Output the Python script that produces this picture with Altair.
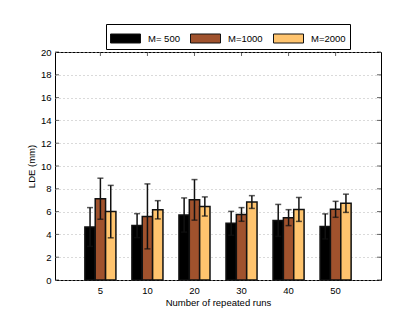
import altair as alt
import pandas as pd

runs = ["5", "10", "20", "30", "40", "50"]
series = ["M= 500", "M=1000", "M=2000"]
colors = ["#000000", "#a0522d", "#ffc46e"]

m500_mean = [4.65, 4.77, 5.70, 4.97, 5.23, 4.70]
m500_err = [1.70, 1.05, 1.50, 1.05, 1.40, 1.10]
m1000_mean = [7.13, 5.58, 7.03, 5.75, 5.47, 6.20]
m1000_err = [1.80, 2.85, 1.78, 0.60, 0.70, 0.70]
m2000_mean = [6.00, 6.16, 6.45, 6.84, 6.19, 6.73]
m2000_err = [2.30, 0.80, 0.84, 0.56, 1.05, 0.80]

y_ticks = [0, 2, 4, 6, 8, 10, 12, 14, 16, 18, 20]

rows = []
for name, means, errs in [
    (series[0], m500_mean, m500_err),
    (series[1], m1000_mean, m1000_err),
    (series[2], m2000_mean, m2000_err),
]:
    for r, m, e in zip(runs, means, errs):
        rows.append({"run": r, "M": name, "mean": m, "err": e})
df = pd.DataFrame(rows)
ticks_df = pd.DataFrame({"v": y_ticks})
runs_df = pd.DataFrame({"run": runs})

W, H = 326, 228

x_axis = alt.Axis(title="Number of repeated runs", labelAngle=0, ticks=False,
                  domain=False, labelPadding=5, titlePadding=3)
y_axis = alt.Axis(title="LDE (mm)", values=y_ticks, grid=True,
                  gridDash=[1, 3], gridColor="#b5b5b5", ticks=False, domain=False,
                  labelOverlap=False, labelFlush=False, labelBound=False,
                  labelPadding=4, titlePadding=4)
x_scale = alt.Scale(domain=runs, paddingInner=0.34, paddingOuter=0.635)
y_scale = alt.Scale(domain=[0, 20], nice=False, zero=True)

x_enc = alt.X("run:N", sort=runs, scale=x_scale, axis=x_axis)
xo_enc = alt.XOffset("M:N", sort=series,
                     scale=alt.Scale(domain=series, paddingInner=0, paddingOuter=0))

base = alt.Chart(df)

bars = base.mark_bar(stroke="#111111", strokeWidth=1.5).encode(
    x=x_enc,
    xOffset=xo_enc,
    y=alt.Y("mean:Q", scale=y_scale, axis=y_axis),
    color=alt.Color("M:N", sort=series,
                    scale=alt.Scale(domain=series, range=colors),
                    legend=alt.Legend(title=None, orient="none", direction="horizontal",
                                      legendX=51, legendY=-28,
                                      symbolType="M-1,-0.45H2V0.45H-1Z",
                                      symbolSize=400, symbolStrokeColor="#111111",
                                      symbolStrokeWidth=1, symbolOpacity=1,
                                      labelOffset=17, columnPadding=8,
                                      strokeColor="#000000", fillColor="white",
                                      padding=4, labelFontSize=9.5)),
)

err_base = base.transform_calculate(
    lo="datum.mean - datum.err", hi="datum.mean + datum.err"
)

rules = err_base.mark_rule(color="#111111", strokeWidth=1.5).encode(
    x=x_enc, xOffset=xo_enc,
    y=alt.Y("lo:Q", scale=y_scale, axis=y_axis), y2="hi:Q",
)
cap_hi = err_base.mark_tick(color="#111111", thickness=1.5, size=6, orient="horizontal").encode(
    x=x_enc, xOffset=xo_enc,
    y=alt.Y("hi:Q", scale=y_scale, axis=y_axis),
)
cap_lo = err_base.mark_tick(color="#111111", thickness=1.5, size=6, orient="horizontal").encode(
    x=x_enc, xOffset=xo_enc,
    y=alt.Y("lo:Q", scale=y_scale, axis=y_axis),
)

ytick_l = alt.Chart(ticks_df).mark_tick(color="#222222", thickness=1, size=4, orient="horizontal").encode(
    y=alt.Y("v:Q", scale=y_scale, axis=y_axis), x=alt.value(2))
ytick_r = alt.Chart(ticks_df).mark_tick(color="#222222", thickness=1, size=4, orient="horizontal").encode(
    y=alt.Y("v:Q", scale=y_scale, axis=y_axis), x=alt.value(W - 2))
xtick_t = alt.Chart(runs_df).mark_tick(color="#222222", thickness=1, size=4, orient="vertical").encode(
    x=x_enc, y=alt.value(2))

chart = alt.layer(bars, rules, cap_hi, cap_lo, ytick_l, ytick_r, xtick_t).properties(
    width=W, height=H,
    autosize=alt.AutoSizeParams(type="none"),
    padding={"left": 47, "top": 44, "right": 31, "bottom": 36},
).configure_view(stroke="#000000", strokeWidth=1).configure_axis(
    labelFont="Liberation Sans", titleFont="Liberation Sans",
    labelFontSize=9.5, titleFontSize=9.5, labelColor="#000000", titleColor="#000000",
    titleFontWeight="normal", labelOverlap=False,
).configure_legend(labelFont="Liberation Sans", labelColor="#000000")

chart.save("out.html", embed_options={"renderer": "svg", "actions": False})
